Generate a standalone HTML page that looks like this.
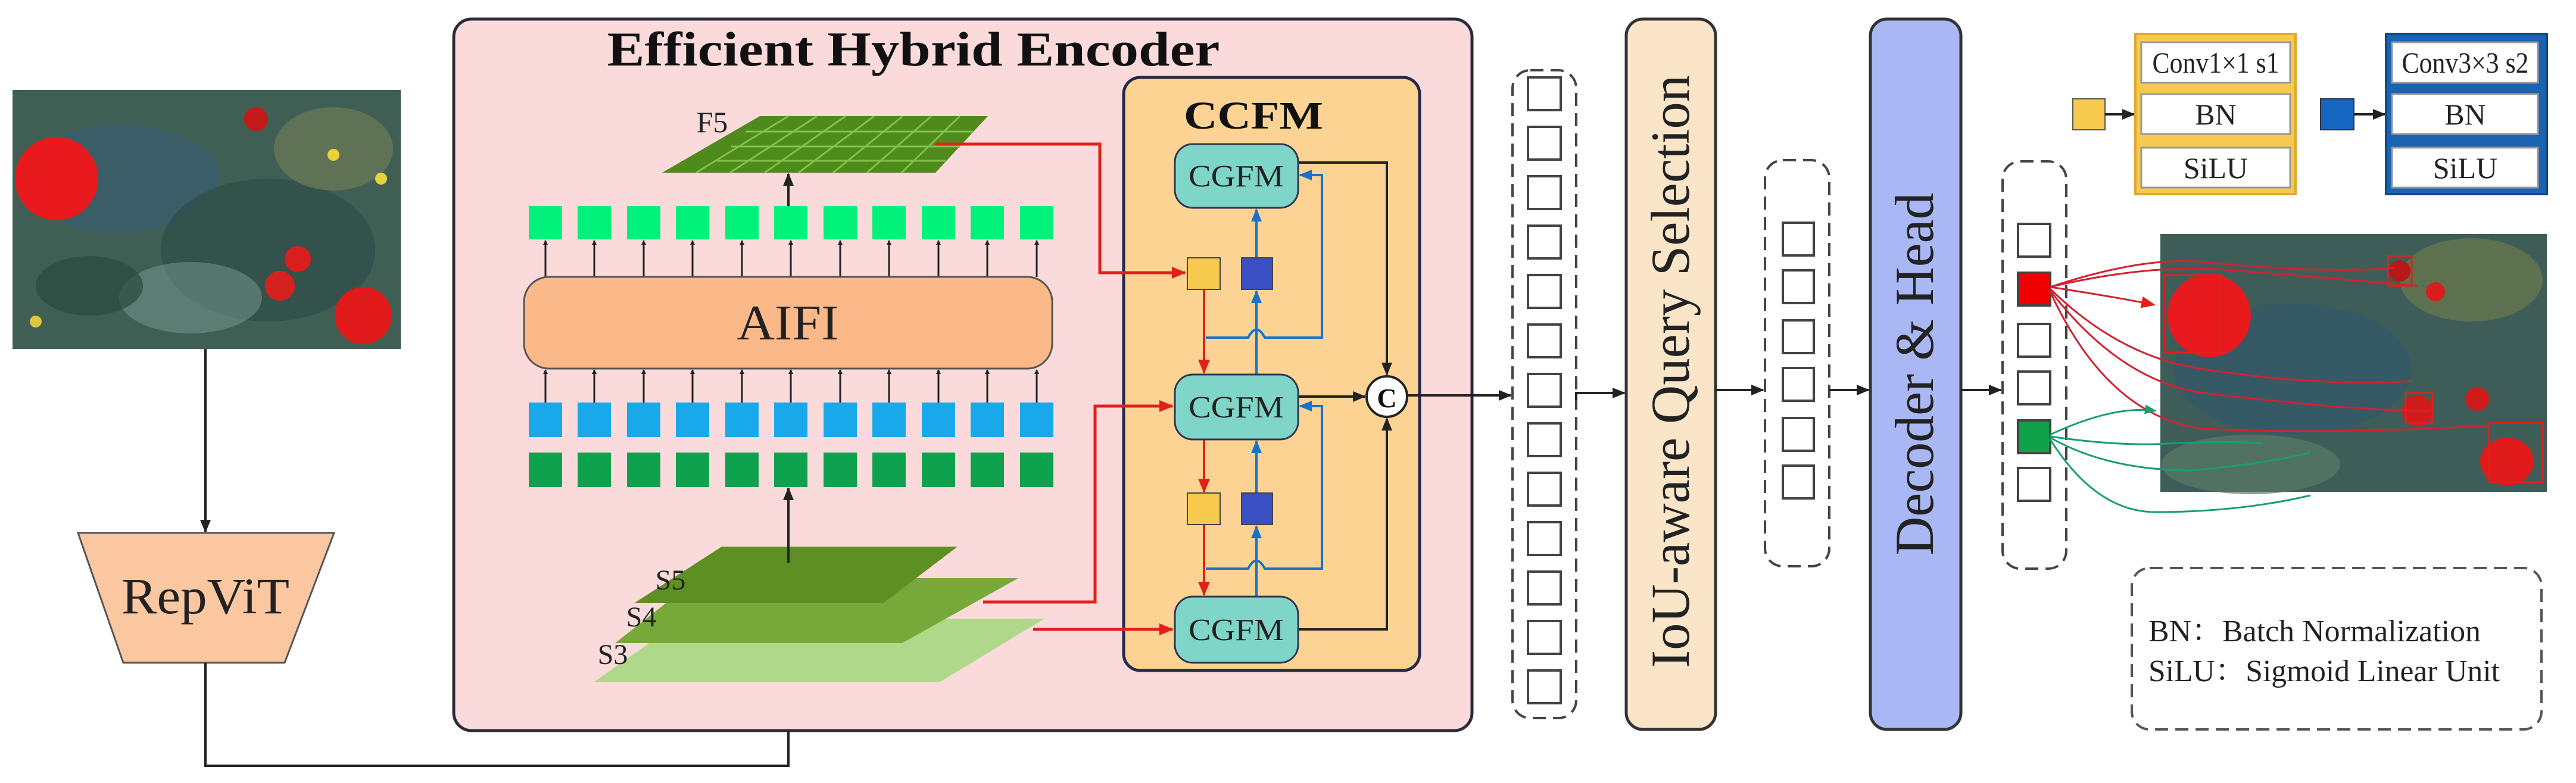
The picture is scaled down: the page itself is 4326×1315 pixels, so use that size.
<!DOCTYPE html>
<html><head><meta charset="utf-8"><style>
html,body{margin:0;padding:0;background:#fff;}
svg{display:block;font-family:"Liberation Serif","Noto Serif CJK SC",serif;}
text{font-family:"Liberation Serif","Noto Serif CJK SC",serif;}
</style></head><body>
<svg width="4326" height="1315" viewBox="0 0 4326 1315" xmlns="http://www.w3.org/2000/svg" font-family="Liberation Serif, Noto Serif CJK SC, serif">
<defs>
<marker id="ak" markerWidth="8" markerHeight="8" refX="7" refY="4" orient="auto" markerUnits="userSpaceOnUse" viewBox="0 0 8 8"><path d="M0,0 L8,4 L0,8 z" fill="#222"/></marker>
<marker id="akb" markerWidth="22" markerHeight="22" refX="20" refY="11" orient="auto" markerUnits="userSpaceOnUse"><path d="M0,2 L22,11 L0,20 z" fill="#222"/></marker>
<marker id="ar" markerWidth="24" markerHeight="24" refX="22" refY="12" orient="auto" markerUnits="userSpaceOnUse"><path d="M0,2 L24,12 L0,22 z" fill="#e0201c"/></marker>
<marker id="ab" markerWidth="22" markerHeight="22" refX="20" refY="11" orient="auto" markerUnits="userSpaceOnUse"><path d="M0,2 L22,11 L0,20 z" fill="#1a72c8"/></marker>
<marker id="ag" markerWidth="20" markerHeight="20" refX="18" refY="10" orient="auto" markerUnits="userSpaceOnUse"><path d="M0,2 L20,10 L0,18 z" fill="#1a9e70"/></marker>
</defs>

<!-- left photo -->
<rect x="21" y="151" width="652" height="435" fill="#4a6a62"/>
<rect x="21" y="151" width="652" height="435" fill="#39594c" opacity="0.6"/>
<ellipse cx="200" cy="300" rx="170" ry="90" fill="#3b5d70" opacity="0.7"/>
<ellipse cx="450" cy="420" rx="180" ry="120" fill="#2f4f48" opacity="0.8"/>
<ellipse cx="560" cy="250" rx="100" ry="70" fill="#6d7a55" opacity="0.7"/>
<ellipse cx="320" cy="500" rx="120" ry="60" fill="#6f8f88" opacity="0.6"/>
<ellipse cx="150" cy="480" rx="90" ry="50" fill="#2a4a3e" opacity="0.7"/>
<circle cx="95" cy="300" r="70" fill="#e8191c"/>
<circle cx="430" cy="200" r="20" fill="#c41a1a"/>
<circle cx="500" cy="435" r="22" fill="#d81e1e"/>
<circle cx="470" cy="480" r="25" fill="#d62020"/>
<circle cx="610" cy="530" r="48" fill="#e01a1a"/>
<circle cx="560" cy="260" r="10" fill="#e8d23a"/>
<circle cx="640" cy="300" r="10" fill="#e8d23a"/>
<circle cx="60" cy="540" r="10" fill="#d8c83a"/>

<!-- photo to RepViT -->
<line x1="345" y1="586" x2="345" y2="893" stroke="#222" stroke-width="4" marker-end="url(#akb)"/>
<polygon points="131,895 561,895 478,1113 207,1113" fill="#fbc7a0" stroke="#555" stroke-width="3"/>
<text x="345" y="1030" font-size="86" text-anchor="middle" textLength="282" lengthAdjust="spacingAndGlyphs" fill="#222">RepViT</text>
<polyline points="345,1113 345,1286 1324,1286 1324,1153" fill="none" stroke="#222" stroke-width="4" marker-end="url(#akb)"/>

<!-- encoder -->
<rect x="762" y="32" width="1710" height="1195" rx="30" fill="#fadada" stroke="#2b2b3a" stroke-width="5"/>
<text x="1534" y="110" font-size="82" font-weight="bold" text-anchor="middle" textLength="1029" lengthAdjust="spacingAndGlyphs" fill="#111">Efficient Hybrid Encoder</text>

<!-- CCFM -->
<rect x="1887" y="130" width="497" height="996" rx="28" fill="#fdd393" stroke="#26294a" stroke-width="5"/>
<text x="2105" y="216" font-size="66" font-weight="bold" text-anchor="middle" textLength="234" lengthAdjust="spacingAndGlyphs" fill="#111">CCFM</text>

<!-- F5 plane -->
<g>
<polygon points="1276,195 1659,195 1571,290 1112,290" fill="#4f8a1d"/>
<g stroke="#82c24a" stroke-width="3">
<line x1="1252" y1="221" x2="1635" y2="221"/><line x1="1228" y1="246" x2="1612" y2="246"/><line x1="1204" y1="270" x2="1588" y2="270"/>
<line x1="1324" y1="195" x2="1169" y2="290"/><line x1="1372" y1="195" x2="1226" y2="290"/><line x1="1420" y1="195" x2="1284" y2="290"/><line x1="1468" y1="195" x2="1341" y2="290"/><line x1="1516" y1="195" x2="1399" y2="290"/><line x1="1564" y1="195" x2="1456" y2="290"/><line x1="1612" y1="195" x2="1514" y2="290"/>
</g>
</g>
<text x="1196" y="222" font-size="50" text-anchor="middle" fill="#222">F5</text>

<line x1="1324" y1="346" x2="1324" y2="292" stroke="#222" stroke-width="4" marker-end="url(#akb)"/>
<g fill="#00f27a">
<rect x="888" y="346" width="56" height="56"/><rect x="970" y="346" width="56" height="56"/><rect x="1053" y="346" width="56" height="56"/><rect x="1135" y="346" width="56" height="56"/><rect x="1218" y="346" width="56" height="56"/><rect x="1300" y="346" width="56" height="56"/><rect x="1383" y="346" width="56" height="56"/><rect x="1465" y="346" width="56" height="56"/><rect x="1548" y="346" width="56" height="56"/><rect x="1630" y="346" width="56" height="56"/><rect x="1713" y="346" width="56" height="56"/>
</g>
<g fill="#19a8ea">
<rect x="888" y="676" width="56" height="58"/><rect x="970" y="676" width="56" height="58"/><rect x="1053" y="676" width="56" height="58"/><rect x="1135" y="676" width="56" height="58"/><rect x="1218" y="676" width="56" height="58"/><rect x="1300" y="676" width="56" height="58"/><rect x="1383" y="676" width="56" height="58"/><rect x="1465" y="676" width="56" height="58"/><rect x="1548" y="676" width="56" height="58"/><rect x="1630" y="676" width="56" height="58"/><rect x="1713" y="676" width="56" height="58"/>
</g>
<g fill="#0fa24e">
<rect x="888" y="760" width="56" height="58"/><rect x="970" y="760" width="56" height="58"/><rect x="1053" y="760" width="56" height="58"/><rect x="1135" y="760" width="56" height="58"/><rect x="1218" y="760" width="56" height="58"/><rect x="1300" y="760" width="56" height="58"/><rect x="1383" y="760" width="56" height="58"/><rect x="1465" y="760" width="56" height="58"/><rect x="1548" y="760" width="56" height="58"/><rect x="1630" y="760" width="56" height="58"/><rect x="1713" y="760" width="56" height="58"/>
</g>
<g stroke="#222" stroke-width="3" marker-end="url(#ak)">
<line x1="916" y1="465" x2="916" y2="404"/><line x1="998" y1="465" x2="998" y2="404"/><line x1="1081" y1="465" x2="1081" y2="404"/><line x1="1163" y1="465" x2="1163" y2="404"/><line x1="1246" y1="465" x2="1246" y2="404"/><line x1="1328" y1="465" x2="1328" y2="404"/><line x1="1411" y1="465" x2="1411" y2="404"/><line x1="1493" y1="465" x2="1493" y2="404"/><line x1="1576" y1="465" x2="1576" y2="404"/><line x1="1658" y1="465" x2="1658" y2="404"/><line x1="1741" y1="465" x2="1741" y2="404"/>
<line x1="916" y1="676" x2="916" y2="621"/><line x1="998" y1="676" x2="998" y2="621"/><line x1="1081" y1="676" x2="1081" y2="621"/><line x1="1163" y1="676" x2="1163" y2="621"/><line x1="1246" y1="676" x2="1246" y2="621"/><line x1="1328" y1="676" x2="1328" y2="621"/><line x1="1411" y1="676" x2="1411" y2="621"/><line x1="1493" y1="676" x2="1493" y2="621"/><line x1="1576" y1="676" x2="1576" y2="621"/><line x1="1658" y1="676" x2="1658" y2="621"/><line x1="1741" y1="676" x2="1741" y2="621"/>
</g>
<rect x="880" y="465" width="887" height="154" rx="42" fill="#fbb98a" stroke="#555" stroke-width="3"/>
<text x="1323" y="570" font-size="84" text-anchor="middle" textLength="171" lengthAdjust="spacingAndGlyphs" fill="#222">AIFI</text>
<line x1="1324" y1="945" x2="1324" y2="820" stroke="#222" stroke-width="4" marker-end="url(#akb)"/>

<!-- S planes -->
<polygon points="1148,1039 1754,1039 1579,1145 998,1145" fill="#b0d88a"/>
<polygon points="1172,971 1710,971 1515,1080 1033,1080" fill="#76a93a"/>
<polygon points="1212,918 1608,918 1483,1013 1065,1013" fill="#5e8f23"/>
<line x1="1324" y1="945" x2="1324" y2="918" stroke="#222" stroke-width="4"/>
<text x="1126" y="990" font-size="48" text-anchor="middle" fill="#222">S5</text>
<text x="1077" y="1052" font-size="48" text-anchor="middle" fill="#222">S4</text>
<text x="1029" y="1115" font-size="48" text-anchor="middle" fill="#222">S3</text>

<!-- red lines -->
<g fill="none" stroke="#e0201c" stroke-width="5">
<polyline points="1571,242 1847,242 1847,458 1990,458" marker-end="url(#ar)"/>
<polyline points="1651,1011 1839,1011 1839,682 1969,682" marker-end="url(#ar)"/>
<polyline points="1735,1057 1969,1057" marker-end="url(#ar)"/>
<line x1="2022" y1="486" x2="2022" y2="626" marker-end="url(#ar)" stroke-width="4"/>
<line x1="2022" y1="738" x2="2022" y2="826" marker-end="url(#ar)" stroke-width="4"/>
<line x1="2022" y1="881" x2="2022" y2="999" marker-end="url(#ar)" stroke-width="4"/>
</g>
<!-- blue lines -->
<g fill="none" stroke="#1a72c8" stroke-width="4">
<line x1="2110" y1="433" x2="2110" y2="352" marker-end="url(#ab)"/>
<line x1="2110" y1="629" x2="2110" y2="489" marker-end="url(#ab)"/>
<line x1="2110" y1="828" x2="2110" y2="741" marker-end="url(#ab)"/>
<line x1="2110" y1="1002" x2="2110" y2="884" marker-end="url(#ab)"/>
<path d="M2025,567 H2096 Q2110,540 2124,567 H2220 V294 H2183" marker-end="url(#ab)"/>
<path d="M2025,955 H2096 Q2110,928 2124,955 H2220 V682 H2183" marker-end="url(#ab)"/>
</g>
<!-- black lines in ccfm -->
<g fill="none" stroke="#222" stroke-width="4">
<polyline points="2180,273 2329,273 2329,629" marker-end="url(#akb)"/>
<line x1="2180" y1="666" x2="2292" y2="666" marker-end="url(#akb)"/>
<polyline points="2180,1057 2329,1057 2329,703" marker-end="url(#akb)"/>
<line x1="2364" y1="664" x2="2537" y2="664" marker-end="url(#akb)"/>
</g>
<!-- CGFM boxes -->
<g stroke="#335" stroke-width="3" fill="#7fd6c8">
<rect x="1973" y="242" width="207" height="107" rx="30"/>
<rect x="1973" y="629" width="207" height="109" rx="30"/>
<rect x="1973" y="1002" width="207" height="111" rx="30"/>
</g>
<g font-size="52" fill="#222" text-anchor="middle">
<text x="2076" y="313" textLength="160" lengthAdjust="spacingAndGlyphs">CGFM</text>
<text x="2076" y="701" textLength="160" lengthAdjust="spacingAndGlyphs">CGFM</text>
<text x="2076" y="1075" textLength="160" lengthAdjust="spacingAndGlyphs">CGFM</text>
</g>
<g stroke="#444" stroke-width="2">
<rect x="1994" y="433" width="55" height="53" fill="#f7c94f"/>
<rect x="2085" y="433" width="52" height="53" fill="#3a4fc4"/>
<rect x="1994" y="828" width="55" height="53" fill="#f7c94f"/>
<rect x="2085" y="828" width="52" height="53" fill="#3a4fc4"/>
</g>
<circle cx="2329" cy="666" r="34" fill="#fff" stroke="#222" stroke-width="4"/>
<text x="2329" y="684" font-size="46" font-weight="bold" text-anchor="middle" fill="#111">C</text>

<!-- column 1 -->
<rect x="2540" y="118" width="107" height="1088" rx="30" fill="none" stroke="#444" stroke-width="4" stroke-dasharray="22,12"/>
<g fill="#fff" stroke="#444" stroke-width="4">
<rect x="2566" y="130" width="55" height="55"/><rect x="2566" y="213" width="55" height="55"/><rect x="2566" y="296" width="55" height="55"/><rect x="2566" y="379" width="55" height="55"/><rect x="2566" y="462" width="55" height="55"/><rect x="2566" y="545" width="55" height="55"/><rect x="2566" y="628" width="55" height="55"/><rect x="2566" y="711" width="55" height="55"/><rect x="2566" y="794" width="55" height="55"/><rect x="2566" y="877" width="55" height="55"/><rect x="2566" y="960" width="55" height="55"/><rect x="2566" y="1043" width="55" height="55"/><rect x="2566" y="1126" width="55" height="55"/>
</g>
<polyline points="2647,672 2647,660 2728,660" fill="none" stroke="#222" stroke-width="4" marker-end="url(#akb)"/>

<!-- IoU box -->
<rect x="2731" y="32" width="150" height="1193" rx="28" fill="#fbe5c8" stroke="#333" stroke-width="5"/>
<text transform="translate(2836,624) rotate(-90)" font-size="92" text-anchor="middle" textLength="996" lengthAdjust="spacingAndGlyphs" fill="#222">IoU-aware Query Selection</text>
<line x1="2881" y1="655" x2="2961" y2="655" stroke="#222" stroke-width="4" marker-end="url(#akb)"/>

<!-- column 2 -->
<rect x="2964" y="269" width="108" height="682" rx="30" fill="none" stroke="#444" stroke-width="4" stroke-dasharray="22,12"/>
<g fill="#fff" stroke="#444" stroke-width="4">
<rect x="2994" y="374" width="52" height="55"/><rect x="2994" y="454" width="52" height="55"/><rect x="2994" y="538" width="52" height="55"/><rect x="2994" y="618" width="52" height="55"/><rect x="2994" y="702" width="52" height="55"/><rect x="2994" y="782" width="52" height="55"/>
</g>
<line x1="3072" y1="655" x2="3138" y2="655" stroke="#222" stroke-width="4" marker-end="url(#akb)"/>

<!-- Decoder -->
<rect x="3141" y="32" width="152" height="1193" rx="28" fill="#a9b8f5" stroke="#333" stroke-width="5"/>
<text transform="translate(3246,628) rotate(-90)" font-size="92" text-anchor="middle" textLength="609" lengthAdjust="spacingAndGlyphs" fill="#222">Decoder &amp; Head</text>
<line x1="3293" y1="655" x2="3360" y2="655" stroke="#222" stroke-width="4" marker-end="url(#akb)"/>

<!-- column 3 -->
<rect x="3363" y="271" width="107" height="684" rx="30" fill="none" stroke="#444" stroke-width="4" stroke-dasharray="22,12"/>
<g stroke="#444" stroke-width="4">
<rect x="3389" y="376" width="54" height="55" fill="#fff"/><rect x="3389" y="458" width="54" height="55" fill="#f00000"/><rect x="3389" y="544" width="54" height="55" fill="#fff"/><rect x="3389" y="624" width="54" height="55" fill="#fff"/><rect x="3389" y="706" width="54" height="55" fill="#11a04a"/><rect x="3389" y="786" width="54" height="55" fill="#fff"/>
</g>

<!-- legend conv boxes -->
<rect x="3481" y="166" width="54" height="52" fill="#f7c94f" stroke="#555" stroke-width="2"/>
<line x1="3535" y1="192" x2="3584" y2="192" stroke="#222" stroke-width="4" marker-end="url(#akb)"/>
<rect x="3586" y="57" width="269" height="269" fill="#f7c94f" stroke="#e0a830" stroke-width="4"/>
<g fill="#fff" stroke="#999" stroke-width="3">
<rect x="3596" y="71" width="250" height="68"/><rect x="3596" y="158" width="250" height="67"/><rect x="3596" y="248" width="250" height="67"/>
</g>
<g font-size="50" text-anchor="middle" fill="#222">
<text x="3721" y="122" textLength="213" lengthAdjust="spacingAndGlyphs">Conv1×1 s1</text>
<text x="3721" y="209">BN</text>
<text x="3721" y="299">SiLU</text>
</g>
<rect x="3897" y="166" width="56" height="52" fill="#1566c0" stroke="#334" stroke-width="2"/>
<line x1="3953" y1="192" x2="4005" y2="192" stroke="#222" stroke-width="4" marker-end="url(#akb)"/>
<rect x="4007" y="57" width="270" height="269" fill="#1a63b0" stroke="#0d4a8c" stroke-width="4"/>
<g fill="#fff" stroke="#999" stroke-width="3">
<rect x="4017" y="71" width="245" height="68"/><rect x="4017" y="158" width="245" height="67"/><rect x="4017" y="248" width="245" height="67"/>
</g>
<g font-size="50" text-anchor="middle" fill="#222">
<text x="4140" y="122" textLength="213" lengthAdjust="spacingAndGlyphs">Conv3×3 s2</text>
<text x="4140" y="209">BN</text>
<text x="4140" y="299">SiLU</text>
</g>

<!-- result photo -->
<rect x="3628" y="393" width="649" height="433" fill="#3e5d58"/>
<ellipse cx="3850" cy="620" rx="200" ry="110" fill="#35596a" opacity="0.8"/>
<ellipse cx="4150" cy="470" rx="120" ry="70" fill="#6b7a4d" opacity="0.7"/>
<ellipse cx="3780" cy="780" rx="150" ry="50" fill="#5a7a68" opacity="0.7"/>
<ellipse cx="3710" cy="530" rx="70" ry="70" fill="#e8191c"/>
<circle cx="4030" cy="455" r="18" fill="#b81818"/>
<circle cx="4090" cy="490" r="16" fill="#d91d1d"/>
<circle cx="4060" cy="690" r="26" fill="#d01c1c"/>
<circle cx="4160" cy="670" r="20" fill="#d01c1c"/>
<ellipse cx="4210" cy="775" rx="45" ry="40" fill="#e01a1a"/>
<g fill="none" stroke="#e0201c" stroke-width="3">
<rect x="3635" y="462" width="95" height="130"/><rect x="4010" y="430" width="40" height="50"/><rect x="4180" y="710" width="90" height="100"/><rect x="4040" y="660" width="45" height="50"/>
</g>
<g fill="none" stroke="#d42030" stroke-width="3">
<path d="M3443,482 Q3560,500 3618,512" marker-end="url(#ar)"/>
<path d="M3443,482 Q3600,430 3700,440 Q3900,460 4020,450"/>
<path d="M3443,482 Q3620,440 3760,455 Q3950,470 4060,480"/>
<path d="M3443,485 Q3560,600 3700,620 Q3900,650 4050,640"/>
<path d="M3443,488 Q3560,640 3700,660 Q3950,690 4080,690"/>
<path d="M3443,490 Q3540,700 3700,720 Q3900,730 4180,715"/>
</g>
<g fill="none" stroke="#1a9e70" stroke-width="3">
<path d="M3443,730 Q3550,680 3620,690" marker-end="url(#ag)"/>
<path d="M3443,733 Q3560,750 3640,745 Q3750,740 3800,745"/>
<path d="M3443,735 Q3540,790 3680,790 Q3800,780 3880,760"/>
<path d="M3443,738 Q3520,860 3620,860 Q3760,860 3880,832"/>
</g>

<!-- legend dashed -->
<rect x="3580" y="954" width="688" height="271" rx="30" fill="none" stroke="#555" stroke-width="4" stroke-dasharray="22,12"/>
<text x="3608" y="1077" font-size="52" fill="#222" textLength="558" lengthAdjust="spacingAndGlyphs">BN：Batch Normalization</text>
<text x="3608" y="1144" font-size="52" fill="#222" textLength="590" lengthAdjust="spacingAndGlyphs">SiLU：Sigmoid Linear Unit</text>
</svg>
</body></html>
